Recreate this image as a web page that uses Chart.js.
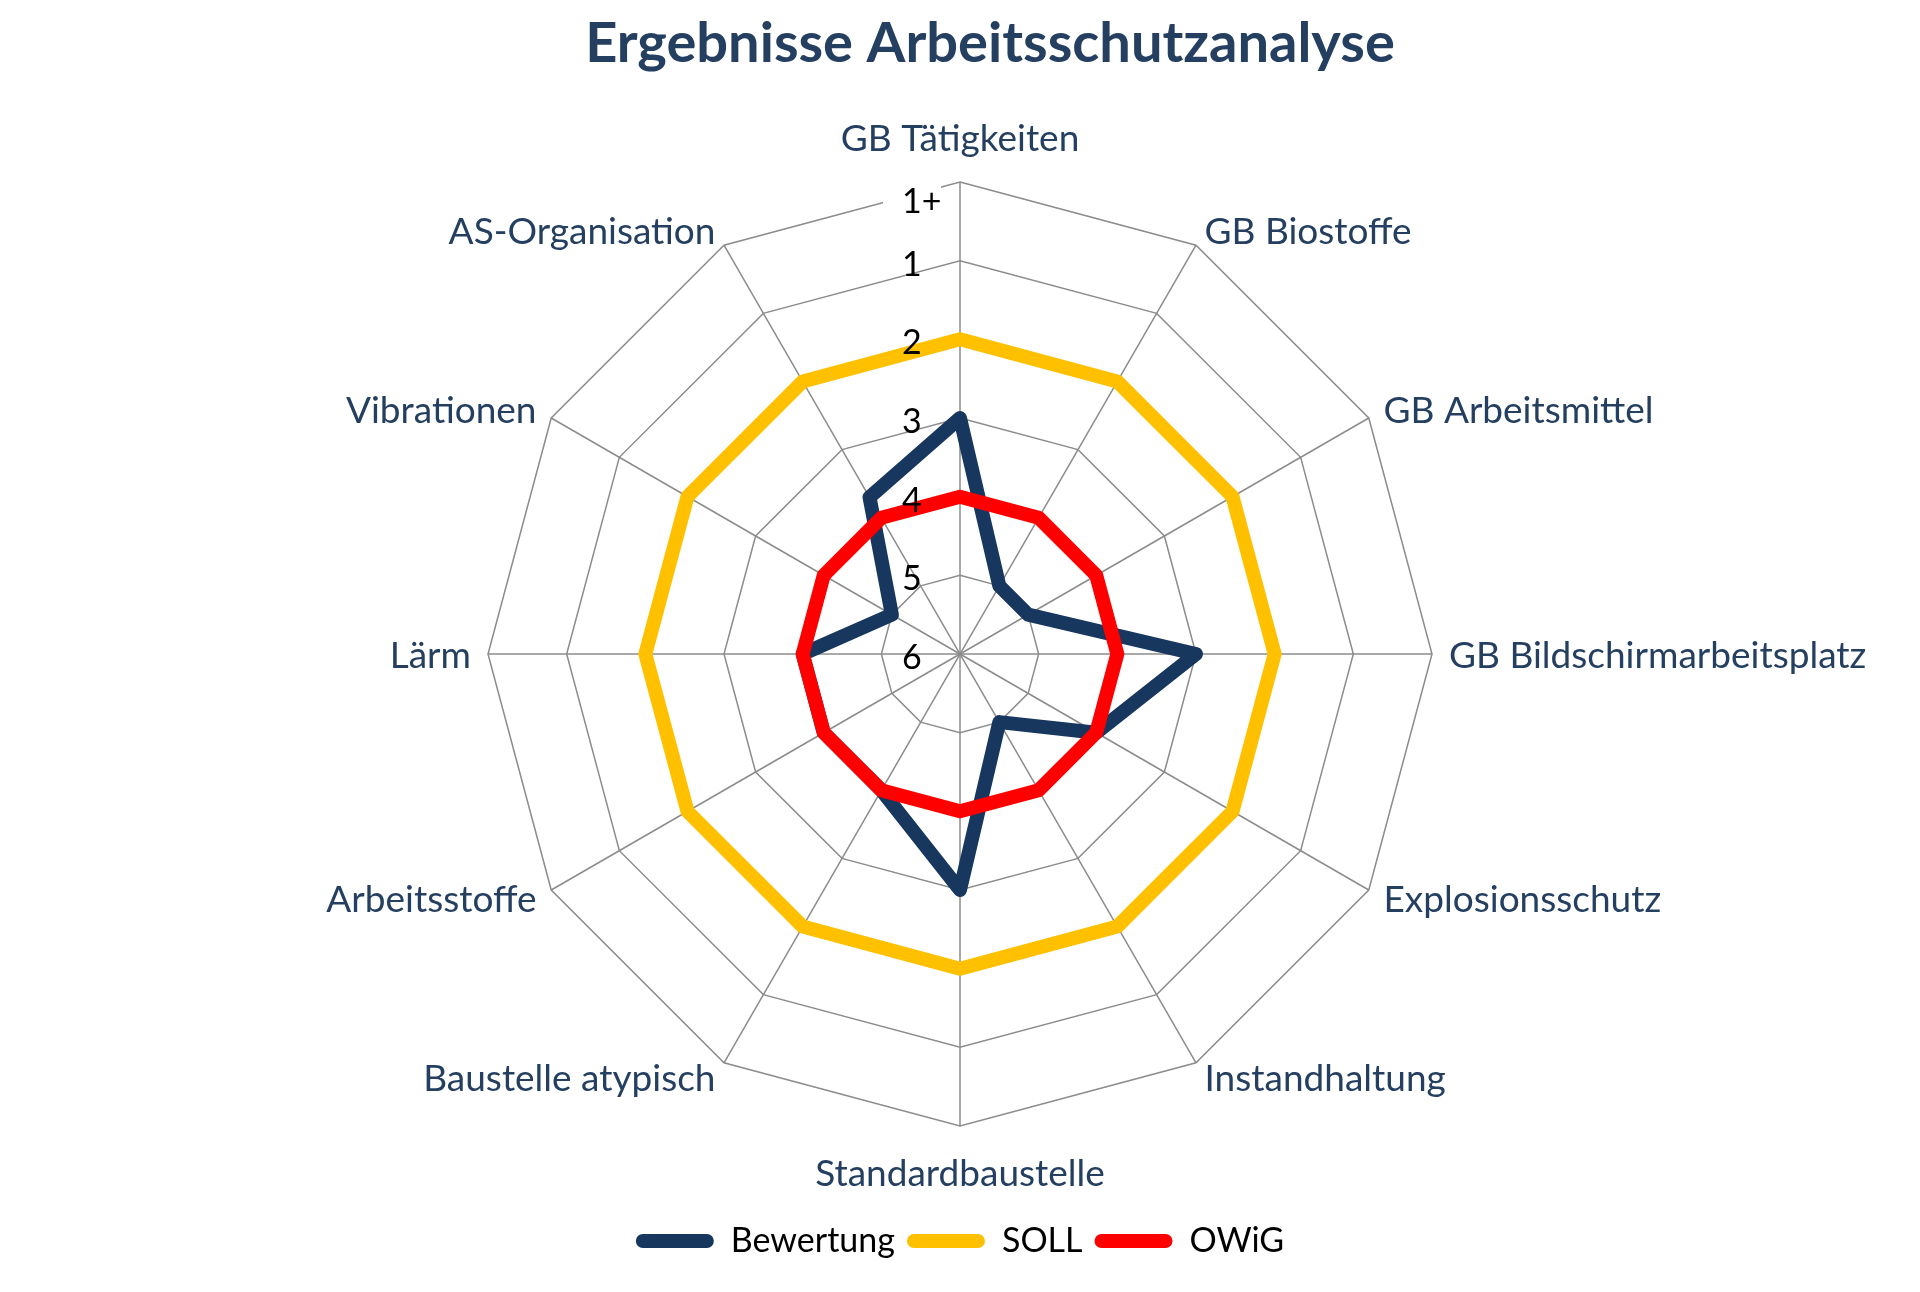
<!DOCTYPE html>
<html><head><meta charset="utf-8">
<script src="https://cdn.jsdelivr.net/npm/chart.js@4.4.1/dist/chart.umd.min.js"></script>
<style>html,body{margin:0;padding:0;background:#fff;}canvas{display:block;}</style>
</head><body>
<canvas id="c" width="1920" height="1292"></canvas>
<script>
const categories = ['GB Tätigkeiten','GB Biostoffe','GB Arbeitsmittel','GB Bildschirmarbeitsplatz','Explosionsschutz','Instandhaltung','Standardbaustelle','Baustelle atypisch','Arbeitsstoffe','Lärm','Vibrationen','AS-Organisation'];
const bewertung = [3,1,1,3,2,1,3,2,2,2,1,2.3];
const soll = [4,4,4,4,4,4,4,4,4,4,4,4];
const owig = [2,2,2,2,2,2,2,2,2,2,2,2];
const tickLabels = ['6','5','4','3','2','1','1+'];
const seriesNames = ['Bewertung','SOLL','OWiG'];
const titleText = 'Ergebnisse Arbeitsschutzanalyse';

const NAVY = '#17375E';
const TEXT = '#243F60';

const excelLabels = {
  id: 'excelLabels',
  afterDraw(chart) {
    const s = chart.scales.r;
    const ctx = chart.ctx;
    ctx.save();
    // title (Excel places it slightly right of centre)
    ctx.font = 'bold 56px Lato';
    ctx.fillStyle = TEXT;
    ctx.textAlign = 'center';
    ctx.textBaseline = 'middle';
    ctx.fillText(titleText, s.xCenter + 30, 44);
    // tick labels (left of the vertical axis)
    ctx.font = '34px Lato';
    ctx.textAlign = 'left';
    s.ticks.forEach((t, i) => {
      const d = s.getDistanceFromCenterForValue(t.value);
      let y = s.yCenter - d + 4;
      const x = s.xCenter - 58;
      if (i === s.ticks.length - 1) {
        y += 16;
        ctx.fillStyle = '#fff';
        ctx.fillRect(x - 19, y - 16, 58, 30);
      }
      ctx.fillStyle = '#000';
      ctx.fillText(tickLabels[i], x, y);
    });
    // category labels
    ctx.font = '37px Lato';
    ctx.fillStyle = TEXT;
    categories.forEach((c, i) => {
      const p = s.getPointPosition(i, s.drawingArea + 17);
      const deg = Math.round(s.getIndexAngle(i) * 180 / Math.PI) % 360;
      let x = p.x, y = p.y + 2;
      if (deg === 0) { ctx.textAlign = 'center'; y = p.y - 26; }
      else if (deg === 180) { ctx.textAlign = 'center'; y = p.y + 31; }
      else if (deg < 180) { ctx.textAlign = 'left'; }
      else { ctx.textAlign = 'right'; }
      ctx.fillText(c, x, y);
    });
    ctx.restore();
  }
};

const colors = [NAVY, '#FFC000', '#FF0000'];
const dataSeries = [bewertung, soll, owig];
const orders = [3, 2, 1];

new Chart(document.getElementById('c'), {
  type: 'radar',
  data: {
    labels: categories,
    datasets: seriesNames.map((n, i) => ({
      label: n,
      data: dataSeries[i],
      borderColor: colors[i],
      backgroundColor: colors[i],
      borderWidth: 14,
      borderJoinStyle: 'round',
      borderCapStyle: 'round',
      fill: false,
      pointRadius: 0,
      pointHoverRadius: 0,
      tension: 0,
      order: orders[i]
    }))
  },
  options: {
    responsive: false,
    animation: false,
    devicePixelRatio: 1,
    events: [],
    layout: { padding: { left: 488, right: 488, top: 96, bottom: 24 } },
    scales: {
      r: {
        min: 0, max: 6,
        ticks: { stepSize: 1, display: false },
        pointLabels: { display: false },
        grid: { color: '#8C8C8C', lineWidth: 1.5, circular: false },
        angleLines: { color: '#8C8C8C', lineWidth: 1.5 }
      }
    },
    plugins: {
      tooltip: { enabled: false },
      title: { display: false },
      legend: {
        position: 'bottom',
        labels: {
          font: { family: 'Lato', size: 34 },
          color: '#000',
          boxWidth: 78,
          boxHeight: 14,
          padding: 12,
          sort: (a, b) => a.datasetIndex - b.datasetIndex,
          generateLabels: (chart) => Chart.defaults.plugins.legend.labels.generateLabels(chart).map(it => {
            const ds = chart.data.datasets[it.datasetIndex];
            it.fillStyle = ds.borderColor;
            it.strokeStyle = ds.borderColor;
            it.lineWidth = 0;
            it.borderRadius = 7;
            return it;
          })
        }
      }
    }
  },
  plugins: [excelLabels]
});
</script>
</body></html>
